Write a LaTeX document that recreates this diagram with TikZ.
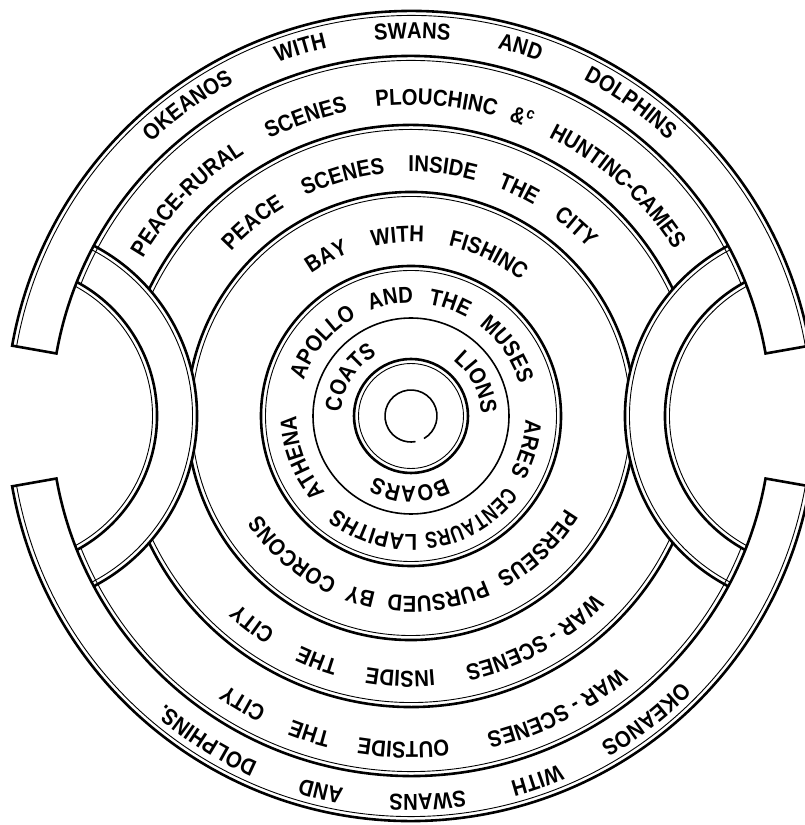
\documentclass[tikz,border=0pt]{standalone}
\usepackage{fontspec}
\setmainfont[FakeStretch=0.88]{Liberation Sans}
\newfontfamily\narrowfamily[FakeStretch=0.76]{Liberation Sans}
\usetikzlibrary{decorations.text}
\newcommand\shieldfont{\fontsize{23}{26}\selectfont\bfseries}
\newcommand\narrowshield{\narrowfamily\fontsize{23}{26}\selectfont\bfseries}
% text fitted on a clockwise arc: radius, start angle, end angle, text
\newcommand\ringfit[4]{%
  \path[shift={(411,409)},decorate,decoration={text along path,
    text={|\shieldfont|#4},text align=fit to path stretching spaces}]
    (#2:#1pt) arc[start angle=#2,end angle=#3,radius=#1pt];}
% text centred on a clockwise arc: font, radius, centre angle, text
\newcommand\ringwordf[4]{%
  \path[shift={(411,409)},decorate,decoration={text along path,
    text={|#1|#4},text align=center}]
    ({#3+50}:#2pt) arc[start angle={#3+50},end angle={#3-50},radius=#2pt];}
\newcommand\ringword[3]{\ringwordf{\shieldfont}{#1}{#2}{#3}}
\begin{document}
\begin{tikzpicture}[x=1pt,y=1pt,
  thickline/.style={line width=2.6pt},
  thinline/.style={line width=0.9pt},
  midline/.style={line width=1.6pt}]
\useasboundingbox (0,0) rectangle (805,825);
\clip (0,0) rectangle (805,825);
\coordinate (C) at (411,409);
\coordinate (SL) at (5,409);
\coordinate (SR) at (817,409);

% Okeanos band
\foreach \a/\b in {10/170,190/350}{
  \draw[thickline,line join=miter] ([shift={(\a:405pt)}]C) arc[start angle=\a,end angle=\b,radius=405pt]
    -- ([shift={(\b:360pt)}]C) arc[start angle=\b,end angle=\a,radius=360pt] -- cycle;
  \draw[thinline] ([shift={(\a:400.5pt)}]C) arc[start angle=\a,end angle=\b,radius=400.5pt];
}
\draw[thinline] ([shift={(21.76:355.5pt)}]C) arc[start angle=21.76,end angle=158.24,radius=355.5pt];
\draw[thinline] ([shift={(201.76:355.5pt)}]C) arc[start angle=201.76,end angle=338.24,radius=355.5pt];

% side arcs
\begin{scope}
\clip (C) circle[radius=360pt];
\draw[thickline] ([shift={(75:152pt)}]SL) arc[start angle=75,end angle=-75,radius=152pt];
\draw[thinline] ([shift={(75:147.5pt)}]SL) arc[start angle=75,end angle=-75,radius=147.5pt];
\draw[thickline] ([shift={(75:192pt)}]SL) arc[start angle=75,end angle=-75,radius=192pt];
\draw[thinline] ([shift={(75:187.5pt)}]SL) arc[start angle=75,end angle=-75,radius=187.5pt];
\draw[thickline] ([shift={(105:152pt)}]SR) arc[start angle=105,end angle=255,radius=152pt];
\draw[thinline] ([shift={(105:147.5pt)}]SR) arc[start angle=105,end angle=255,radius=147.5pt];
\draw[thickline] ([shift={(105:192pt)}]SR) arc[start angle=105,end angle=255,radius=192pt];
\draw[thinline] ([shift={(105:187.5pt)}]SR) arc[start angle=105,end angle=255,radius=187.5pt];
\end{scope}

% ring R3
\draw[thickline] ([shift={(25.84:291pt)}]C) arc[start angle=25.84,end angle=154.16,radius=291pt];
\draw[thickline] ([shift={(205.84:291pt)}]C) arc[start angle=205.84,end angle=334.16,radius=291pt];
\draw[thinline] ([shift={(25.45:286.5pt)}]C) arc[start angle=25.45,end angle=154.55,radius=286.5pt];
\draw[thinline] ([shift={(205.45:286.5pt)}]C) arc[start angle=205.45,end angle=334.55,radius=286.5pt];
% ring R4
\draw[thickline] ([shift={(11.64:224pt)}]C) arc[start angle=11.64,end angle=168.36,radius=224pt];
\draw[thickline] ([shift={(191.64:224pt)}]C) arc[start angle=191.64,end angle=348.36,radius=224pt];
\draw[thinline] ([shift={(8.76:219.5pt)}]C) arc[start angle=8.76,end angle=171.24,radius=219.5pt];
\draw[thinline] ([shift={(188.76:219.5pt)}]C) arc[start angle=188.76,end angle=351.24,radius=219.5pt];
% inner rings
\draw[thickline] (C) circle[radius=150pt];
\draw[thinline] (C) circle[radius=145.5pt];
\draw[midline] (C) circle[radius=98pt];
\draw[thickline] (C) circle[radius=57pt];
\draw[thinline] (C) circle[radius=52.5pt];
\draw[midline] ([shift={(-60:26pt)}]C) arc[start angle=-60,end angle=280,radius=26pt];

% texts
\ringfit{377.5}{133.5}{47}{OKEANOS WITH SWANS AND DOLPHINS}
\ringfit{378.5}{315.5}{229.5}{OKEANOS WITH SWANS AND DOLPHINS.}
\ringfit{311}{149.5}{74.3}{PEACE-RURAL SCENES PLOUCHINC}
\node[anchor=base,rotate=-20.4,font=\shieldfont,inner sep=0pt] (amp) at ([shift={(69.6:311pt)}]C) {\&\textsuperscript{c}};
\ringword{311}{48}{HUNTINC-CAMES}
\ringword{326}{296.5}{WAR - SCENES}
\ringfit{326}{276.6}{235.6}{OUTSIDE THE CITY}
\ringfit{244}{137.5}{43.5}{PEACE SCENES INSIDE THE CITY}
\ringword{255}{299}{WAR - SCENES}
\ringfit{255}{275.2}{227.5}{INSIDE THE CITY}
\ringfit{174}{125}{51}{BAY WITH FISHINC}
\ringfit{180}{329}{213}{PERSEUS PURSUED BY CORCONS}
\ringfit{113}{161.5}{16.5}{APOLLO AND THE MUSES}
\ringword{114.5}{344}{ARES}
\ringwordf{\narrowshield}{118.5}{300}{CENTAURS}
\ringword{118.5}{252}{LAPITHS}
\ringword{114.5}{201}{ATHENA}
\ringword{70}{148}{COATS}
\ringword{70}{27}{LIONS}
\ringword{70.5}{269}{BOARS}
\end{tikzpicture}
\end{document}
